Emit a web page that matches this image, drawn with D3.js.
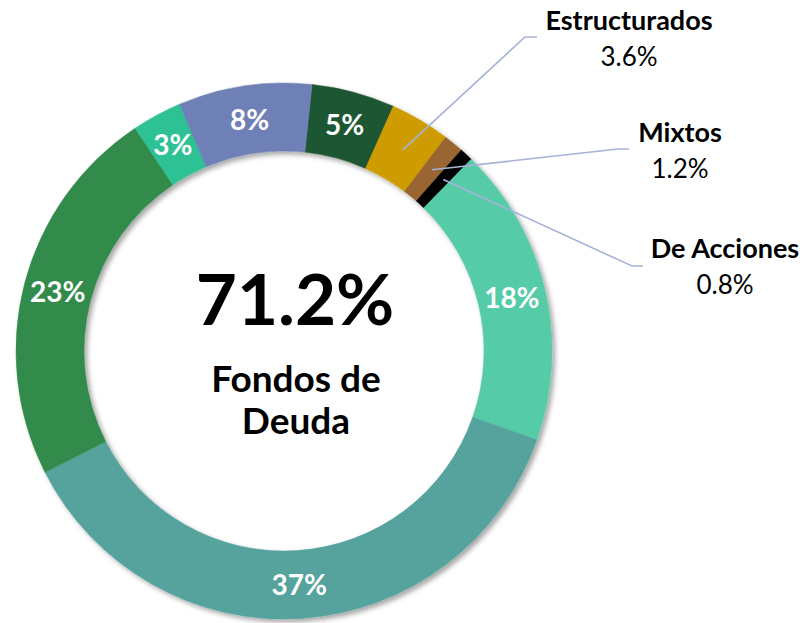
<!DOCTYPE html>
<html>
<head>
<meta charset="utf-8">
<script src="https://cdn.jsdelivr.net/npm/d3@7"></script>
<style>
  body { margin: 0; background: #fff; }
  svg { display: block; font-family: Lato, "Noto Sans", sans-serif; }
</style>
</head>
<body>
<div id="chart"></div>
<script>
// slice order is clockwise, starting just right of 12 o'clock
var shares = [5, 3.6, 1.2, 0.8, 18, 37, 23, 3, 8];
var sliceLabels = ["5%", "", "", "", "18%", "37%", "23%", "3%", "8%"];
var sliceColors = ["#1f5630", "#cf9c00", "#996633", "#000000", "#55cba8", "#54a39c", "#328a4c", "#2fc194", "#6e80b6"];

// slices with a callout outside the ring
var calloutIndex = [1, 2, 3];
var calloutNames = ["Estructurados", "Mixtos", "De Acciones"];
var calloutValues = ["3.6%", "1.2%", "0.8%"];

var centerValue = "71.2%";
var centerLines = ["Fondos de", "Deuda"];

var width = 804, height = 623;
var cx = 284, cy = 351;
var rOuter = 268, rInner = 200, rLabel = 234;

var svg = d3.select("#chart").append("svg")
    .attr("width", width)
    .attr("height", height);

var defs = svg.append("defs");
var f = defs.append("filter").attr("id", "shadow")
    .attr("x", "-10%").attr("y", "-10%").attr("width", "120%").attr("height", "120%");
f.append("feDropShadow")
    .attr("dx", 3).attr("dy", 3).attr("stdDeviation", 2.5)
    .attr("flood-color", "#000").attr("flood-opacity", 0.35);

var startDeg = 6;
var pie = d3.pie().sort(null).value(function(d){ return d; })
    .startAngle(startDeg * Math.PI / 180)
    .endAngle((startDeg + 360) * Math.PI / 180);
var arcs = pie(shares);

var arc = d3.arc().innerRadius(rInner).outerRadius(rOuter);
var labelArc = d3.arc().innerRadius(rLabel).outerRadius(rLabel);

var g = svg.append("g").attr("transform", "translate(" + cx + "," + cy + ")");

g.append("g").attr("filter", "url(#shadow)")
  .selectAll("path").data(arcs)
  .enter().append("path")
    .attr("d", arc)
    .attr("fill", function(d, i){ return sliceColors[i]; })
    .attr("stroke", function(d, i){ return sliceColors[i]; })
    .attr("stroke-width", 0.5);

// percentages inside the ring
g.append("g").selectAll("text").data(arcs)
  .enter().append("text")
    .attr("transform", function(d){ return "translate(" + labelArc.centroid(d) + ")"; })
    .attr("text-anchor", "middle")
    .attr("dy", "0.36em")
    .attr("fill", "#fff")
    .attr("font-weight", 700)
    .attr("font-size", 28)
    .text(function(d, i){ return sliceLabels[i]; });

// center text
svg.append("text")
    .attr("x", 295).attr("y", 325)
    .attr("text-anchor", "middle")
    .attr("font-weight", 700).attr("font-size", 71)
    .text(centerValue);
svg.append("g").selectAll("text").data(centerLines)
  .enter().append("text")
    .attr("x", 296)
    .attr("y", function(d, i){ return 392 + i * 42; })
    .attr("text-anchor", "middle")
    .attr("font-weight", 700).attr("font-size", 37)
    .text(function(d){ return d; });

// callouts: label anchor, elbow and line end next to the label
var calloutPos = [
  {x: 629, y: 30, elbow: [525, 37], end: [537, 37]},
  {x: 680, y: 142, elbow: [618, 149], end: [629, 149]},
  {x: 725, y: 258, elbow: [632, 266], end: [643, 266]}
];

var leaders = svg.append("g").attr("class", "leaders");
calloutIndex.forEach(function(si, k){
  var c = labelArc.centroid(arcs[si]);
  var p = calloutPos[k];
  leaders.append("polyline")
    .attr("points", [[cx + c[0], cy + c[1]], p.elbow, p.end].map(function(q){ return q.join(","); }).join(" "))
    .attr("fill", "none")
    .attr("stroke", "#a6b2d6")
    .attr("stroke-width", 1.6);
  svg.append("text")
    .attr("x", p.x).attr("y", p.y)
    .attr("text-anchor", "middle")
    .attr("font-weight", 700).attr("font-size", 27)
    .text(calloutNames[k]);
  svg.append("text")
    .attr("x", p.x).attr("y", p.y + 36)
    .attr("text-anchor", "middle")
    .attr("font-size", 26)
    .text(calloutValues[k]);
});
</script>
</body>
</html>
